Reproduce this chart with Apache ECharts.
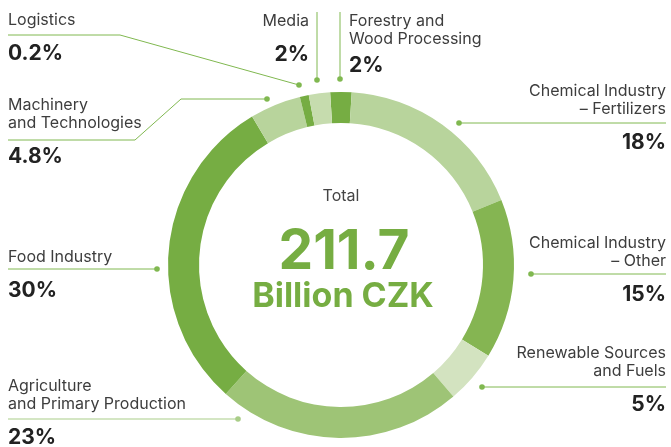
<!DOCTYPE html>
<html>
<head>
<meta charset="utf-8">
<script src="https://cdn.jsdelivr.net/npm/echarts@6/dist/echarts.min.js"></script>
<style>
  html, body { margin: 0; padding: 0; background: #fff; }
  #chart { width: 671px; height: 447px; }
</style>
</head>
<body>
<div id="chart"></div>
<script>
  // 数据（顺时针，从正上方开始）
  const categories = [
    'Forestry and\nWood Processing',
    'Chemical Industry\n– Fertilizers',
    'Chemical Industry\n– Other',
    'Renewable Sources\nand Fuels',
    'Agriculture\nand Primary Production',
    'Food Industry',
    'Machinery\nand Technologies',
    'Logistics',
    'Media'
  ]
  const shares = [2, 18, 15, 5, 23, 30, 4.8, 0.2, 2]
  const totalValue = '211.7'
  const totalUnit = 'Billion CZK'
  const totalTitle = 'Total'

  const sliceColors = ['#76ad43', '#b8d49c', '#85b552', '#d3e3c0', '#9ec476', '#76ad43', '#b8d49c', '#76ad43', '#c6dcae']

  // 标签的位置和引导线（像素）
  const labelAnchors = [
    { x: 349, y: 12, align: 'left', line: [[340, 79], [340, 12]], tight: true },
    { x: 666, y: 82, align: 'right', line: [[459, 123], [666, 123]] },
    { x: 666, y: 234, align: 'right', line: [[531, 274], [666, 274]] },
    { x: 666, y: 344, align: 'right', line: [[482, 387], [666, 387]] },
    { x: 8, y: 377, align: 'left', line: [[238, 419], [8, 419]], color: '#a9cd88' },
    { x: 8, y: 248, align: 'left', line: [[157, 269], [8, 269]] },
    { x: 8, y: 96, align: 'left', line: [[267, 99], [181, 99], [135, 140], [8, 140]] },
    { x: 8, y: 11, align: 'left', line: [[299, 85], [120, 35], [8, 35]] },
    { x: 309, y: 12, align: 'right', line: [[317, 80], [317, 12]] }
  ]

  const center = [341, 265]
  const lineColor = '#80b850'
  const fontFamily = 'Inter, Roboto, sans-serif'

  const chart = echarts.init(document.getElementById('chart'))

  const pieData = categories.map((name, i) => ({
    name: name,
    value: shares[i],
    itemStyle: { color: sliceColors[i] },
    labelLine: { lineStyle: { color: labelAnchors[i].color || lineColor } }
  }))

  // 引导线端点的小圆点
  const dots = labelAnchors.map((a) => ({
    type: 'circle',
    silent: true,
    shape: { cx: a.line[0][0], cy: a.line[0][1], r: 2.8 },
    style: { fill: a.color || lineColor }
  }))

  const option = {
    animation: false,
    series: [
      {
        type: 'pie',
        center: center,
        radius: [142, 173],
        startAngle: 90 + shares[0] * 1.8,
        clockwise: true,
        minAngle: 3,
        avoidLabelOverlap: false,
        silent: true,
        itemStyle: { borderWidth: 0 },
        emphasis: { disabled: true },
        label: {
          show: true,
          position: 'outside',
          formatter: (p) => {
            const names = p.name.split('\n').map((s) => '{n|' + s + '}').join('\n')
            const v = labelAnchors[p.dataIndex].tight ? 'w' : 'v'
            return names + '\n{' + v + '|' + p.value + '%}'
          },
          rich: {
            n: { fontFamily: fontFamily, fontSize: 16, lineHeight: 18, color: '#3d3d3d' },
            v: { fontFamily: fontFamily, fontSize: 21, fontWeight: 'bold', lineHeight: 50, color: '#222' },
            w: { fontFamily: fontFamily, fontSize: 21, fontWeight: 'bold', lineHeight: 36, color: '#222' }
          }
        },
        labelLine: { show: true, length: 10, length2: 10, lineStyle: { width: 1 } },
        labelLayout: (params) => {
          const a = labelAnchors[params.dataIndex]
          return {
            x: a.x,
            y: a.y,
            align: a.align,
            verticalAlign: 'top',
            labelLinePoints: a.line
          }
        },
        data: pieData
      }
    ],
    graphic: dots.concat([
      {
        type: 'text', x: center[0], y: 196, silent: true,
        style: { text: totalTitle, align: 'center', verticalAlign: 'middle', fill: '#444', font: '16px ' + fontFamily }
      },
      {
        type: 'text', x: center[0] + 3, y: 252, silent: true,
        style: { text: totalValue, align: 'center', verticalAlign: 'middle', fill: '#76ad42', font: 'bold 55px ' + fontFamily }
      },
      {
        type: 'text', x: center[0] + 2, y: 297, silent: true,
        style: { text: totalUnit, align: 'center', verticalAlign: 'middle', fill: '#76ad42', font: 'bold 34px ' + fontFamily }
      }
    ])
  }

  chart.setOption(option)
</script>
</body>
</html>
